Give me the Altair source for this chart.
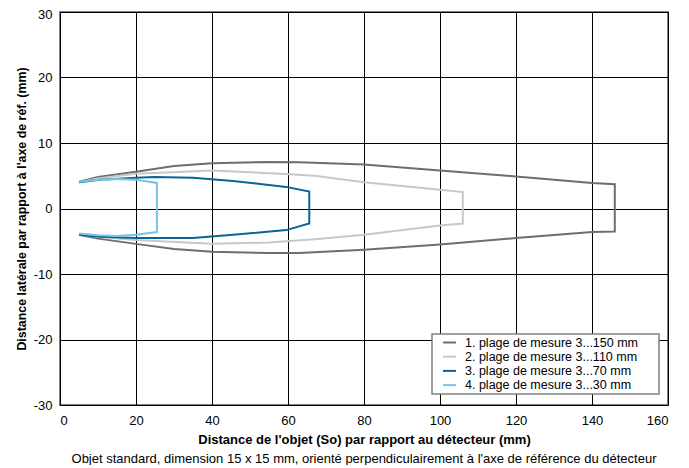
import altair as alt
import pandas as pd

series_names = [
    "1. plage de mesure 3...150 mm",
    "2. plage de mesure 3...110 mm",
    "3. plage de mesure 3...70 mm",
    "4. plage de mesure 3...30 mm",
]
colors = ["#6e6e6e", "#c8c8c8", "#0a6496", "#78c3e8"]

# upper edge (x increasing), then lower edge (x decreasing back)
s1_upper_x = [5, 10, 20, 30, 40, 55, 63, 80, 100, 120, 140, 146]
s1_upper_y = [4.1, 4.8, 5.6, 6.5, 6.9, 7.1, 7.05, 6.7, 5.8, 4.9, 3.9, 3.7]
s1_lower_x = [146, 140, 120, 100, 80, 63, 55, 40, 30, 20, 10, 5]
s1_lower_y = [-3.5, -3.6, -4.5, -5.5, -6.3, -6.8, -6.8, -6.6, -6.2, -5.4, -4.6, -4.0]

s2_upper_x = [5, 10, 20, 40, 58, 67, 80, 100, 106]
s2_upper_y = [4.0, 4.6, 5.3, 5.8, 5.3, 5.0, 4.0, 2.85, 2.5]
s2_lower_x = [106, 100, 80, 67, 55, 40, 20, 10, 5]
s2_lower_y = [-2.3, -2.6, -4.0, -4.7, -5.2, -5.4, -4.8, -4.3, -3.9]

s3_upper_x = [5, 10.5, 20, 25, 35, 45.5, 59.5, 65.6]
s3_upper_y = [4.0, 4.4, 4.7, 4.8, 4.7, 4.2, 3.3, 2.6]
s3_lower_x = [65.6, 59.5, 45.5, 35, 20, 10.5, 5]
s3_lower_y = [-2.3, -3.3, -4.0, -4.5, -4.5, -4.3, -4.0]

s4_upper_x = [5, 10, 15, 20, 25.5]
s4_upper_y = [4.1, 4.4, 4.5, 4.4, 3.9]
s4_lower_x = [25.5, 20, 15, 10, 5]
s4_lower_y = [-3.6, -4.0, -4.2, -4.1, -3.8]

x_ticks = [0, 20, 40, 60, 80, 100, 120, 140, 160]
y_ticks = [-30, -20, -10, 0, 10, 20, 30]

rows = []
for name, ux, uy, lx, ly in [
    (series_names[0], s1_upper_x, s1_upper_y, s1_lower_x, s1_lower_y),
    (series_names[1], s2_upper_x, s2_upper_y, s2_lower_x, s2_lower_y),
    (series_names[2], s3_upper_x, s3_upper_y, s3_lower_x, s3_lower_y),
    (series_names[3], s4_upper_x, s4_upper_y, s4_lower_x, s4_lower_y),
]:
    xs = ux + lx
    ys = uy + ly
    for i, (a, b) in enumerate(zip(xs, ys)):
        rows.append({"serie": name, "x": a, "y": b, "ord": i})
df = pd.DataFrame(rows)

W, H = 608, 393
FONT = "Liberation Sans"
label_expr = "datum.value < 0 ? '-' + abs(datum.value) : '' + datum.value"

lines = alt.Chart(df).mark_line(strokeWidth=2, strokeJoin="miter").encode(
    x=alt.X("x:Q", scale=alt.Scale(domain=[0, 160], nice=False),
            axis=alt.Axis(values=x_ticks, title="Distance de l'objet (So) par rapport au détecteur (mm)",
                          titlePadding=6, labelPadding=9, labelExpr=label_expr,
                          titleFontSize=13)),
    y=alt.Y("y:Q", scale=alt.Scale(domain=[-30, 30], nice=False),
            axis=alt.Axis(values=y_ticks, title="Distance latérale par rapport à l'axe de réf. (mm)",
                          titlePadding=5, labelPadding=8, labelExpr=label_expr,
                          titleFontSize=12.4,
                          labelOffset=alt.condition("datum.value == 30", alt.value(2.5), alt.value(0)))),
    color=alt.Color("serie:N", scale=alt.Scale(domain=series_names, range=colors),
                    sort=series_names,
                    legend=alt.Legend(title=None, orient="none", legendX=382, legendY=323,
                                      symbolType="stroke", symbolSize=169, symbolStrokeWidth=2,
                                      labelFontSize=12.5, labelFont=FONT, labelColor="#000",
                                      labelOffset=8, padding=0,
                                      rowPadding=0.2, labelLimit=300, offset=0)),
    order="ord:Q",
    detail="serie:N",
)

box_df = pd.DataFrame({"k": [1]})
legend_box = alt.Chart(box_df).mark_rect(fill="white", stroke="#808080", strokeWidth=1.5).encode(
    x=alt.value(372), x2=alt.value(599), y=alt.value(322), y2=alt.value(382)
)

sub_df = pd.DataFrame({"t": ["Objet standard, dimension 15 x 15 mm, orienté perpendiculairement à l'axe de référence du détecteur"]})
subtitle = alt.Chart(sub_df).mark_text(font=FONT, fontSize=13, color="#000", baseline="middle").encode(
    text="t:N", x=alt.value(W / 2), y=alt.value(H + 54)
)

chart = alt.layer(lines, legend_box, subtitle).properties(
    width=W, height=H,
    autosize=alt.AutoSizeParams(type="none"),
    padding={"left": 52, "top": 4, "right": 13, "bottom": 60},
).configure_view(
    stroke="#808080", strokeWidth=2
).configure_axis(
    grid=True, gridColor="#000", gridOpacity=1, gridWidth=1,
    domain=False, ticks=False,
    labelFont=FONT, labelFontSize=13, labelColor="#000",
    titleFont=FONT, titleFontWeight="bold", titleColor="#000",
)

chart.save("out.html", embed_options={"renderer": "svg", "actions": False})
